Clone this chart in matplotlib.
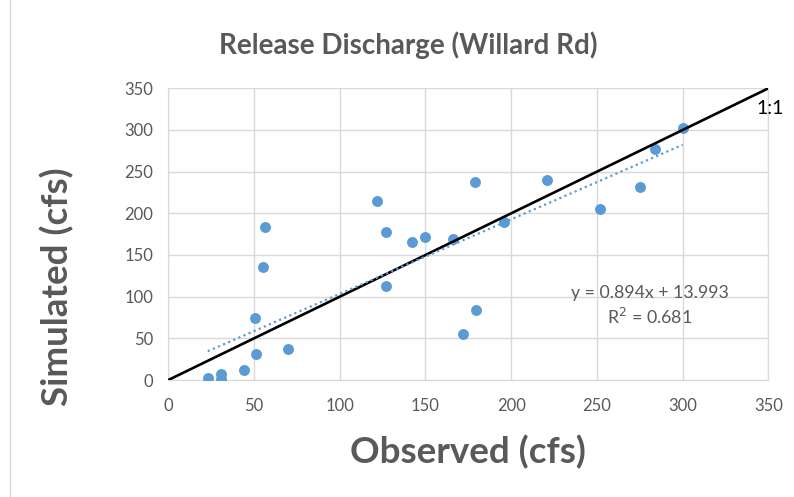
import matplotlib
matplotlib.use("Agg")
import matplotlib.pyplot as plt
import numpy as np

plt.rcParams['font.family'] = ['Lato', 'DejaVu Sans']

# observed vs simulated release discharge (cfs)
observed = [23, 30.5, 30.5, 44, 50.5, 51, 70, 55.5, 56.5, 122, 127, 127,
            142, 150, 166, 172, 179.5, 179, 196, 221, 252, 275, 284, 300]
simulated = [2, 7, 1, 12, 74.5, 31, 37.5, 135, 183, 215, 178, 113,
             165, 172, 169, 55.5, 84, 237, 189, 240, 205, 232, 277, 302]

slope = 0.894
intercept = 13.993
r2 = 0.681
ticks = [0, 50, 100, 150, 200, 250, 300, 350]

gray = '#595959'
blue = '#5b9bd5'

fig = plt.figure(figsize=(7.94, 4.97), dpi=100)
ax = fig.add_axes([0.212, 0.2354, 0.7557, 0.5869])

ax.set_xlim(0, 350)
ax.set_ylim(0, 350)
ax.set_xticks(ticks)
ax.set_yticks(ticks)
ax.grid(True, color='#d9d9d9', lw=1)
ax.set_axisbelow(True)
for s in ax.spines.values():
    s.set_color('#d9d9d9')
ax.tick_params(length=0, labelsize=12, colors=gray)
ax.tick_params(axis='x', pad=13)
ax.tick_params(axis='y', pad=11)

ax.scatter(observed, simulated, s=62, color=blue, zorder=3, linewidths=0)

# 1:1 line
ax.plot([0, 350], [0, 350], color='black', lw=1.9, zorder=4)
ax.text(343, 326, '1:1', fontsize=14, color='black', ha='left', va='center', clip_on=False)

# linear trendline
xs = np.array([min(observed), max(observed)])
ax.plot(xs, slope * xs + intercept, color=blue, lw=1.6, ls=(0, (1, 1.5)), zorder=4)
ax.text(281, 104, 'y = %.3fx + %.3f' % (slope, intercept), fontsize=12.8, color=gray, ha='center', va='center')
ax.text(281, 76, 'R$^2$ = %.3f' % r2, fontsize=12.8, color=gray, ha='center', va='center')

fig.text(0.589, 0.0905, 'Observed (cfs)', fontsize=26.5, fontweight='bold', color=gray,
         ha='center', va='center')
fig.text(0.0718, 0.4225, 'Simulated (cfs)', fontsize=26.5, fontweight='bold', color=gray,
         ha='center', va='center', rotation=90)
fig.text(0.514, 0.909, 'Release Discharge (Willard Rd)', fontsize=20, fontweight='bold',
         color=gray, ha='center', va='center')

# chart border on the left
fig.add_artist(plt.Line2D([0.013, 0.013], [0, 1], color='#d9d9d9', lw=1))

fig.savefig('out.png', dpi=100)
